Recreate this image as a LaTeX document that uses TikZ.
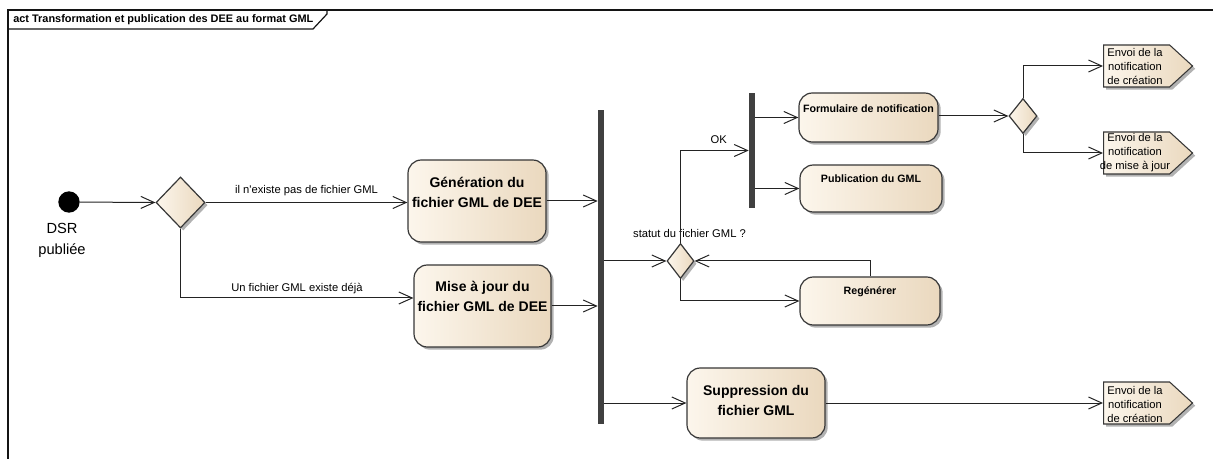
\documentclass[tikz,border=0pt]{standalone}
\usepackage{fontspec}
\setmainfont{Liberation Sans}[Ligatures=TeXOff]
\usetikzlibrary{arrows.meta,shapes.geometric,shapes.symbols,shadows}
\definecolor{boxL}{RGB}{252,246,236}
\definecolor{boxR}{RGB}{234,216,190}
\definecolor{boxline}{RGB}{55,55,55}
\definecolor{edgecol}{RGB}{35,35,35}
\definecolor{barcol}{RGB}{64,64,64}
\definecolor{framecol}{RGB}{20,20,20}
\tikzset{
  shadowed/.style={drop shadow={shadow xshift=2pt,shadow yshift=-2pt,fill=black,opacity=0.3}},
  actbox/.style={rectangle,draw=boxline,line width=0.9pt,rounded corners=10pt,
    left color=boxL,right color=boxR,inner sep=0pt,shadowed},
  decision/.style={diamond,draw=boxline,line width=0.9pt,left color=boxL,right color=boxR,
    inner sep=0pt,shadowed},
  forkbar/.style={rectangle,fill=barcol,draw=none,inner sep=0pt,minimum width=4.5pt},
  initial/.style={circle,fill=black,draw=none,inner sep=0pt,minimum size=16pt},
  sigbox/.style={signal,signal to=east,signal pointer angle=85,draw=boxline,line width=0.8pt,
    left color=boxL,right color=boxR,inner sep=0pt,minimum width=66.75pt,minimum height=31.5pt,
    anchor=west,shadowed},
  flow/.style={draw=edgecol,line width=0.75pt,-{Straight Barb[length=10pt,width=9pt]}},
  elabel/.style={font=\fontsize{8.4}{10}\selectfont,inner sep=0pt},
  boxtext/.style={font=\bfseries\fontsize{10.5}{15}\selectfont,align=center,inner sep=0pt},
  smalltext/.style={font=\bfseries\fontsize{8}{10}\selectfont,inner sep=0pt},
  sigtext/.style={font=\fontsize{8.4}{10.5}\selectfont,align=center,inner sep=0pt},
  titletext/.style={font=\bfseries\fontsize{8.2}{10}\selectfont,inner sep=0pt,anchor=west},
  inittext/.style={font=\fontsize{11}{15.75}\selectfont,align=center,inner sep=0pt}
}
\begin{document}
\begin{tikzpicture}[x=0.75pt,y=-0.75pt]
\useasboundingbox (0,0) rectangle (1213,459);
% frame
\draw[framecol,line width=1pt] (1213,10) -- (8,10) -- (8,459);
\draw[framecol,line width=0.9pt] (8,29) -- (313,29) -- (327,14) -- (327,10);
\node[titletext] (title) at (13,19.5) {act Transformation et publication des DEE au format GML};

% nodes
\node[initial] (init) at (69,202) {};
\node[inittext] (initlbl) at (62,240) {DSR\\publiée};
\node[decision,minimum width=36.75pt,minimum height=38.25pt] (d1) at (180.5,202.5) {};

\node[actbox,minimum width=103.5pt,minimum height=61.5pt] (gen) at (477,201) {};
\node[boxtext] (gent) at (477,192) {Génération du\\fichier GML de DEE};
\node[actbox,minimum width=102.75pt,minimum height=61.5pt] (maj) at (482.5,306) {};
\node[boxtext] (majt) at (482.5,296) {Mise à jour du\\fichier GML de DEE};

\node[forkbar,minimum height=235.5pt] (bar1) at (601,267) {};

\node[decision,minimum width=20.25pt,minimum height=26.25pt] (d2) at (680.5,261) {};
\node[forkbar,minimum height=86.25pt] (bar2) at (752,150.5) {};

\node[actbox,minimum width=104.25pt,minimum height=36.75pt] (form) at (868.5,117.5) {};
\node[smalltext] (formt) at (868.5,109) {Formulaire de notification};
\node[actbox,minimum width=106.5pt,minimum height=35.25pt] (pub) at (871,188.5) {};
\node[smalltext] (pubt) at (871,179) {Publication du GML};
\node[actbox,minimum width=105pt,minimum height=36pt] (regen) at (870,301) {};
\node[smalltext] (regent) at (870,292) {Regénérer};
\node[actbox,minimum width=103.5pt,minimum height=52.5pt] (supp) at (756,403) {};
\node[boxtext] (suppt) at (756,400) {Suppression du\\fichier GML};

\node[decision,minimum width=21pt,minimum height=26.25pt] (d3) at (1023,116) {};

\node[sigbox] (sig1) at (1103,66) {};
\node[sigtext] (sig1t) at (1135,67) {Envoi de la\\notification\\de création};
\node[sigbox] (sig2) at (1103,153) {};
\node[sigtext] (sig2t) at (1135,153) {Envoi de la\\notification\\de mise à jour};
\node[sigbox] (sig3) at (1103,403) {};
\node[sigtext] (sig3t) at (1135,404) {Envoi de la\\notification\\de création};

% connectors
\draw[flow] (init) -- (d1.west);
\draw[flow] (d1.east) -- node[elabel,above=5pt] (l1) {il n'existe pas de fichier GML} (d1.east -| gen.west);
\draw[flow] (d1.south) |- node[elabel,pos=0.75,above=3pt] (l2) {Un fichier GML existe déjà} ([yshift=6pt]maj.west);
\draw[flow] (gen.east) -- (gen.east -| bar1.west);
\draw[flow] (maj.east) -- (maj.east -| bar1.west);
\draw[flow] (bar1.east |- d2.west) -- (d2.west);
\node[elabel] (statut) at (689.5,233) {statut du fichier GML ?};
\draw[flow] (d2.north) |- node[elabel,pos=0.78,above=5pt] (lok) {OK} (bar2.west);
\draw[flow] (bar2.east |- form.west) -- (form.west);
\draw[flow] (bar2.east |- pub.west) -- (pub.west);
\draw[flow] (d3.west -| form.east) -- (d3.west);
\draw[flow] (d3.north) |- (sig1.west);
\draw[flow] (d3.south) |- (sig2.west);
\draw[flow] (d2.south) |- (regen.west);
\draw[flow] (regen.north) |- (d2.east);
\draw[flow] (bar1.east |- supp.west) -- (supp.west);
\draw[flow] (supp.east) -- (sig3.west);
\end{tikzpicture}
\end{document}
